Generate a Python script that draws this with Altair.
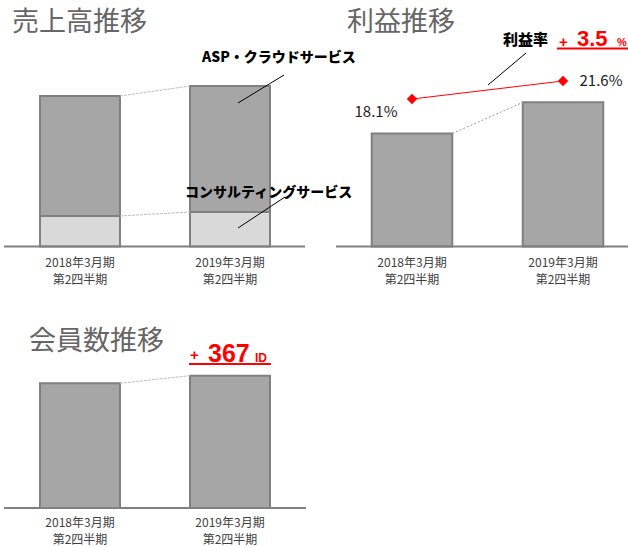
import altair as alt
import pandas as pd

# ---------------- data ----------------
periods = ["2018年3月期\n第2四半期", "2019年3月期\n第2四半期"]
asp_sales = [120.0, 126.0]
consult_sales = [30.5, 34.5]
profit = [27.2, 34.7]
margin = [18.1, 21.6]
margin_labels = ["18.1%", "21.6%"]
members = [6020, 6387]

titles = ["売上高推移", "利益推移", "会員数推移"]
segment_names = ["ASP・クラウドサービス", "コンサルティングサービス"]
margin_name = "利益率"
margin_delta = ["+", "3.5", "%"]
member_delta = ["+", "367", "ID"]

# ---------------- styles ----------------
FONT = "Noto Sans CJK JP"
LATIN = "Liberation Sans"
BAR = "#a6a6a6"
EDGE = "#808080"
LIGHT = "#d9d9d9"
RED = "#ff0000"
TITLE = "#666666"


def xs(rng):
    return alt.Scale(domain=periods, range=rng, paddingInner=0.4667, paddingOuter=0.2333)


def ys(dom, rng):
    return alt.Scale(domain=dom, range=rng, nice=False, zero=False)


X1 = xs([5, 305])
X2 = xs([336.5, 638.5])
X3 = xs([5, 305])
Y_sales = ys([0, 200], [246.5, 46.5])
Y_profit = ys([0, 48], [246.5, 47.1])
Y_margin = ys([0, 30], [192.1, 37.8])
Y_members = ys([0, 9600], [508, 309.1])


def text(txt, x, y, size, color, weight="normal", font=FONT, align="left"):
    return alt.Chart(pd.DataFrame({"t": [txt]})).mark_text(
        font=font, fontSize=size, color=color, fontWeight=weight,
        align=align, baseline="alphabetic"
    ).encode(x=alt.value(x), y=alt.value(y), text="t:N")


def seg(x1, y1, x2, y2, color="#000000", w=1, dash=None):
    kw = dict(color=color, strokeWidth=w)
    if dash:
        kw["strokeDash"] = dash
    return alt.Chart(pd.DataFrame({"k": [0]})).mark_rule(**kw).encode(
        x=alt.value(x1), y=alt.value(y1), x2=alt.value(x2), y2=alt.value(y2)
    )


label_df = pd.DataFrame({"p": periods})
label_df["l1"] = [p.split("\n")[0] for p in periods]
label_df["l2"] = [p.split("\n")[1] for p in periods]


def cat_labels(xsc, y):
    out = []
    for col, yy in (("l1", y), ("l2", y + 17)):
        out.append(
            alt.Chart(label_df).mark_text(
                font=FONT, fontSize=12, color="#404040", baseline="alphabetic"
            ).encode(x=alt.X("p:N", scale=xsc, axis=None), y=alt.value(yy),
                     text=f"{col}:N")
        )
    return out


def connector(ya, yb, xsc, ysc, color, dash):
    df = pd.DataFrame({"a": [periods[0]] * len(ya), "b": [periods[1]] * len(ya),
                       "ya": ya, "yb": yb})
    return alt.Chart(df).mark_rule(color=color, strokeWidth=1, strokeDash=dash).encode(
        x=alt.X("a:N", scale=xsc, axis=None, bandPosition=1),
        x2=alt.X2("b", bandPosition=0),
        y=alt.Y("ya:Q", scale=ysc, axis=None),
        y2=alt.Y2("yb"),
    )


layers = []

# ---------- panel 1 : sales ----------
sales_df = pd.DataFrame({"p": periods, "asp": asp_sales, "consult": consult_sales})
layers.append(
    alt.Chart(sales_df).transform_calculate(total="datum.asp + datum.consult")
    .mark_bar(fill=BAR, stroke=EDGE, strokeWidth=2)
    .encode(x=alt.X("p:N", scale=X1, axis=None),
            y=alt.Y("total:Q", scale=Y_sales, axis=None),
            y2=alt.Y2("consult"))
)
layers.append(
    alt.Chart(sales_df).mark_bar(fill=LIGHT, stroke=EDGE, strokeWidth=2)
    .encode(x=alt.X("p:N", scale=X1, axis=None),
            y=alt.Y("consult:Q", scale=Y_sales, axis=None))
)
tot = [a + c for a, c in zip(asp_sales, consult_sales)]
layers.append(connector([tot[0], consult_sales[0]], [tot[1], consult_sales[1]],
                        X1, Y_sales, "#c0c0c0", [3, 1]))
layers.append(seg(4, 246.5, 305, 246.5, EDGE, 2))
layers += cat_labels(X1, 266.5)
layers.append(text(titles[0], 12, 31, 27, TITLE))
layers.append(text(segment_names[0], 202, 62, 14, "#000000", 900))
layers.append(seg(284, 75, 238, 103))
layers.append(text(segment_names[1], 185, 197, 14, "#000000", 900))
layers.append(seg(285, 197, 238, 228))

# ---------- panel 2 : profit ----------
prof_df = pd.DataFrame({"p": periods, "v": profit, "m": margin,
                        "lab": margin_labels, "i": list(range(len(periods)))})
layers.append(
    alt.Chart(prof_df).mark_bar(fill=BAR, stroke=EDGE, strokeWidth=2)
    .encode(x=alt.X("p:N", scale=X2, axis=None),
            y=alt.Y("v:Q", scale=Y_profit, axis=None))
)
layers.append(connector([profit[0]], [profit[1]], X2, Y_profit, "#999999", [2, 2]))
layers.append(seg(336, 246.5, 628, 246.5, EDGE, 2))
layers += cat_labels(X2, 266.5)
layers.append(
    alt.Chart(prof_df).mark_line(color=RED, strokeWidth=1)
    .encode(x=alt.X("p:N", scale=X2, axis=None),
            y=alt.Y("m:Q", scale=Y_margin, axis=None))
)
layers.append(
    alt.Chart(prof_df).mark_point(shape="diamond", filled=True, size=110, color=RED, opacity=1)
    .encode(x=alt.X("p:N", scale=X2, axis=None),
            y=alt.Y("m:Q", scale=Y_margin, axis=None))
)
for i, (dx, dy) in enumerate([(-36, 18), (38, 5)]):
    layers.append(
        alt.Chart(prof_df).transform_filter(alt.datum.i == i)
        .mark_text(font=FONT, fontSize=15, color="#222222", baseline="alphabetic",
                   dx=dx, dy=dy)
        .encode(x=alt.X("p:N", scale=X2, axis=None),
                y=alt.Y("m:Q", scale=Y_margin, axis=None),
                text="lab:N")
    )
layers.append(text(titles[1], 347, 31, 27, TITLE))
layers.append(text(margin_name, 503, 45, 15, "#000000", 900))
layers.append(seg(526, 53, 488, 85))
layers.append(text(margin_delta[0], 559, 47, 15, RED, "bold", LATIN))
layers.append(text(margin_delta[1], 577, 46, 22, RED, "bold", LATIN))
layers.append(text(margin_delta[2], 617, 46, 11, RED, "bold", LATIN))
layers.append(seg(557, 48.5, 628, 48.5, RED, 2))

# ---------- panel 3 : members ----------
mem_df = pd.DataFrame({"p": periods, "v": members})
layers.append(
    alt.Chart(mem_df).mark_bar(fill=BAR, stroke=EDGE, strokeWidth=2)
    .encode(x=alt.X("p:N", scale=X3, axis=None),
            y=alt.Y("v:Q", scale=Y_members, axis=None))
)
layers.append(connector([members[0]], [members[1]], X3, Y_members, "#c0c0c0", [3, 1]))
layers.append(seg(4, 508, 306, 508, EDGE, 2))
layers += cat_labels(X3, 526.5)
layers.append(text(titles[2], 29, 350, 27, TITLE))
layers.append(text(member_delta[0], 190, 360, 15, RED, "bold", LATIN))
layers.append(text(member_delta[1], 208, 362, 25, RED, "bold", LATIN))
layers.append(text(member_delta[2], 255, 362, 12, RED, "bold", LATIN))
layers.append(seg(189, 364, 271, 364, RED, 2))

chart = (
    alt.layer(*layers)
    .resolve_scale(x="independent", y="independent")
    .properties(width=628, height=547, padding=0,
                autosize=alt.AutoSizeParams(type="none"), background="white")
    .configure_view(stroke=None)
)

chart.save("out.html", embed_options={"renderer": "svg", "actions": False})
